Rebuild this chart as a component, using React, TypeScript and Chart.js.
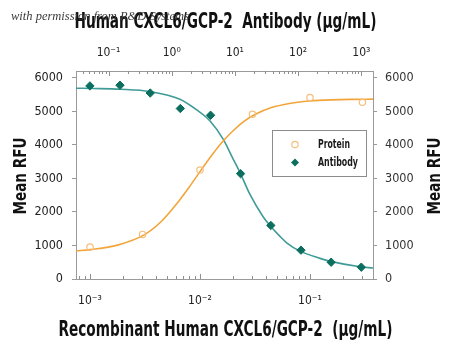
import React, { useEffect, useRef } from 'react';
import { Chart, registerables } from 'chart.js';

Chart.register(...registerables);

// ---- data ----
const proteinConc = [0.001, 0.003, 0.01, 0.03, 0.1, 0.3];
const proteinRFU = [949, 1328, 3248, 4910, 5409, 5269];

const antibodyConc = [0.0508, 0.152, 0.457, 1.37, 4.12, 12.3, 37.0, 111, 333, 1000];
const antibodyRFU = [5755, 5776, 5543, 5081, 4881, 3140, 1597, 860, 501, 352];

const proteinFitConc = [0.000746, 0.001, 0.00178, 0.00316, 0.00447, 0.00631, 0.00794, 0.01, 0.0126, 0.0158, 0.02, 0.0251, 0.0316, 0.0447, 0.0631, 0.1, 0.158, 0.251, 0.374];
const proteinFitRFU = [835, 875, 1010, 1330, 1720, 2290, 2730, 3200, 3660, 4070, 4420, 4700, 4905, 5110, 5225, 5305, 5340, 5355, 5362];

const antibodyFitConc = [0.0306, 0.0575, 0.152, 0.454, 1.35, 2.49, 4.04, 6.55, 9.43, 12.0, 17.3, 28.1, 35.9, 51.7, 66.0, 107, 222, 327, 953, 1531];
const antibodyFitRFU = [5687, 5678, 5657, 5588, 5358, 5039, 4710, 4164, 3567, 3180, 2520, 1850, 1597, 1270, 1080, 830, 615, 525, 364, 328];

const yTickValues = [0, 1000, 2000, 3000, 4000, 5000, 6000];
const bottomRange = [0.000746, 0.374];
const topRange = [0.0306, 1531];
const yRange = [0, 6200];

const topTitle = 'Human CXCL6/GCP-2  Antibody (\u00b5g/mL)';
const bottomTitle = 'Recombinant Human CXCL6/GCP-2  (\u00b5g/mL)';
const yTitle = 'Mean RFU';
const legendLabels = ['Protein', 'Antibody'];
const watermark = 'with permission from R&D Systems';

const FONT = '"DejaVu Sans Condensed", "Liberation Sans Narrow", "Liberation Sans", sans-serif';

const SUP: Record<string, string> = { '-': '\u207b', '0': '\u2070', '1': '\u00b9', '2': '\u00b2', '3': '\u00b3', '4': '\u2074', '5': '\u2075', '6': '\u2076', '7': '\u2077', '8': '\u2078', '9': '\u2079' };

function powLabel(v: number): string {
  const l = Math.log10(v);
  const r = Math.round(l);
  if (Math.abs(l - r) > 1e-6) return '';
  return '10' + String(r).split('').map((c) => SUP[c] || c).join('');
}

const ORANGE_LINE = '#f2a53a';
const ORANGE_PT = '#f4bf7c';
const TEAL_LINE = '#3f9b97';
const TEAL_PT = '#0c6e5f';

const insideTicks = {
  id: 'insideTicks',
  afterDraw(chart: any) {
    const ctx = chart.ctx;
    ['x', 'x2'].forEach((id) => {
      const s = chart.scales[id];
      const isTop = id === 'x2';
      const yEdge = isTop ? chart.chartArea.top : chart.chartArea.bottom;
      ctx.save();
      ctx.strokeStyle = '#8f8f8f';
      ctx.lineWidth = 1;
      const e0 = Math.floor(Math.log10(s.min));
      const e1 = Math.ceil(Math.log10(s.max));
      for (let e = e0; e <= e1; e++) {
        for (let m = 1; m <= 9; m++) {
          const v = m * Math.pow(10, e);
          if (v < s.min || v > s.max) continue;
          const px = Math.round(s.getPixelForValue(v)) + 0.5;
          const len = m === 1 ? 5 : 3;
          ctx.beginPath();
          ctx.moveTo(px, yEdge);
          ctx.lineTo(px, isTop ? yEdge + len : yEdge - len);
          ctx.stroke();
        }
      }
      ctx.restore();
    });
  },
};

function squeezeText(ctx: any, text: string, x: number, y: number, maxW: number) {
  ctx.fillText(text, x, y, maxW);
}

const axisTitles = {
  id: 'axisTitles',
  afterDraw(chart: any) {
    const ctx = chart.ctx;
    const a = chart.chartArea;
    const cx = (a.left + a.right) / 2 + 1;
    const cy = (a.top + a.bottom) / 2 + 1;
    ctx.save();
    ctx.fillStyle = '#111';
    ctx.textAlign = 'center';
    ctx.textBaseline = 'alphabetic';
    ctx.font = 'bold 21px ' + FONT;
    squeezeText(ctx, topTitle, cx, 28, 302);
    squeezeText(ctx, bottomTitle, cx, 335.5, 334);
    ctx.font = 'bold 18px ' + FONT;
    [25.5, 440].forEach((bx) => {
      ctx.save();
      ctx.translate(bx, cy);
      ctx.rotate(-Math.PI / 2);
      squeezeText(ctx, yTitle, 0, 0, 77);
      ctx.restore();
    });
    ctx.restore();
  },
};

const boxLegend = {
  id: 'boxLegend',
  afterDraw(chart: any) {
    const ctx = chart.ctx;
    const bx = 272.5, by = 130.5, bw = 94, bh = 46;
    ctx.save();
    ctx.fillStyle = '#ffffff';
    ctx.fillRect(bx, by, bw, bh);
    ctx.strokeStyle = '#8c8c8c';
    ctx.lineWidth = 1;
    ctx.strokeRect(bx, by, bw, bh);
    const rows = [144.5, 162.5];
    const widths = [32, 40];
    [0, 1].forEach((i) => {
      const ds = chart.data.datasets[i];
      const mx = 295, my = rows[i];
      ctx.beginPath();
      if (ds.pointStyle === 'rectRot') {
        const r = 4;
        ctx.moveTo(mx - r, my);
        ctx.lineTo(mx, my - r);
        ctx.lineTo(mx + r, my);
        ctx.lineTo(mx, my + r);
        ctx.closePath();
        ctx.fillStyle = ds.pointBackgroundColor;
        ctx.fill();
      } else {
        ctx.arc(mx, my, 3.2, 0, Math.PI * 2);
        ctx.strokeStyle = ds.pointBorderColor;
        ctx.lineWidth = 1.2;
        ctx.stroke();
      }
      ctx.fillStyle = '#1a1a1a';
      ctx.font = 'bold 12px ' + FONT;
      ctx.textBaseline = 'middle';
      ctx.textAlign = 'left';
      squeezeText(ctx, ds.label, 318, my, widths[i]);
    });
    ctx.restore();
  },
};

export default function App() {
  const ref = useRef<HTMLCanvasElement>(null);

  useEffect(() => {
    if (!ref.current) return;
    const toPts = (xs: number[], ys: number[]) => xs.map((x, i) => ({ x, y: ys[i] }));
    const setYTicks = (scale: any) => {
      scale.ticks = yTickValues.map((v) => ({ value: v }));
    };
    const xTickOpts = (pad: number) => ({
      autoSkip: false,
      maxRotation: 0,
      padding: pad,
      color: '#222',
      font: { family: FONT, size: 12 },
      callback: (v: any) => powLabel(Number(v)),
    });
    const chart = new Chart(ref.current, {
      type: 'scatter',
      data: {
        datasets: [
          {
            label: legendLabels[0],
            data: toPts(proteinConc, proteinRFU),
            xAxisID: 'x',
            yAxisID: 'y',
            showLine: false,
            pointStyle: 'circle',
            pointRadius: 3.2,
            pointBorderWidth: 1.2,
            pointBorderColor: ORANGE_PT,
            pointBackgroundColor: 'rgba(255,255,255,0)',
          },
          {
            label: legendLabels[1],
            data: toPts(antibodyConc, antibodyRFU),
            xAxisID: 'x2',
            yAxisID: 'y',
            showLine: false,
            pointStyle: 'rectRot',
            pointRadius: 4.2,
            pointBorderWidth: 1,
            pointBorderColor: TEAL_PT,
            pointBackgroundColor: TEAL_PT,
          },
          {
            label: 'Protein fit',
            data: toPts(proteinFitConc, proteinFitRFU),
            xAxisID: 'x',
            yAxisID: 'y',
            showLine: true,
            pointRadius: 0,
            borderColor: ORANGE_LINE,
            borderWidth: 1.6,
            cubicInterpolationMode: 'monotone',
          },
          {
            label: 'Antibody fit',
            data: toPts(antibodyFitConc, antibodyFitRFU),
            xAxisID: 'x2',
            yAxisID: 'y',
            showLine: true,
            pointRadius: 0,
            borderColor: TEAL_LINE,
            borderWidth: 1.6,
            cubicInterpolationMode: 'monotone',
          },
        ],
      },
      options: {
        animation: false,
        responsive: false,
        layout: { padding: 0 },
        plugins: { legend: { display: false }, tooltip: { enabled: false } },
        scales: {
          x: {
            type: 'logarithmic',
            position: 'bottom',
            min: bottomRange[0],
            max: bottomRange[1],
            afterFit: (s: any) => { s.height = 72; },
            grid: { display: false, drawTicks: false, tickLength: 0 },
            border: { display: true, color: '#9a9a9a', width: 1 },
            ticks: xTickOpts(15),
          },
          x2: {
            type: 'logarithmic',
            position: 'top',
            min: topRange[0],
            max: topRange[1],
            afterFit: (s: any) => { s.height = 71; },
            grid: { display: false, drawTicks: false, tickLength: 0 },
            border: { display: true, color: '#9a9a9a', width: 1 },
            ticks: xTickOpts(11),
          },
          y: {
            type: 'linear',
            position: 'left',
            min: yRange[0],
            max: yRange[1],
            afterFit: (s: any) => { s.width = 76; },
            afterBuildTicks: setYTicks,
            grid: { display: true, drawOnChartArea: false, drawTicks: true, tickLength: 4, color: '#9a9a9a' },
            border: { display: true, color: '#9a9a9a', width: 1 },
            ticks: {
              padding: 9,
              color: '#222',
              font: { family: FONT, size: 12.5 },
              callback: (v: any) => String(v),
            },
          },
          y2: {
            type: 'linear',
            position: 'right',
            min: yRange[0],
            max: yRange[1],
            afterFit: (s: any) => { s.width = 77; },
            afterBuildTicks: setYTicks,
            grid: { display: true, drawOnChartArea: false, drawTicks: true, tickLength: 4, color: '#9a9a9a' },
            border: { display: true, color: '#9a9a9a', width: 1 },
            ticks: {
              padding: 8,
              color: '#333',
              font: { family: FONT, size: 12.5 },
              callback: (v: any) => String(v),
            },
          },
        },
      } as any,
      plugins: [insideTicks, axisTitles, boxLegend],
    });
    return () => chart.destroy();
  }, []);

  return (
    <div style={{ position: 'absolute', left: 0, top: 0, width: 450, height: 351, background: '#fff' }}>
      <canvas ref={ref} width={450} height={351} style={{ display: 'block' }} />
      <div
        style={{
          position: 'absolute',
          left: 11,
          top: 9,
          fontFamily: '"Liberation Serif", "DejaVu Serif", serif',
          fontStyle: 'italic',
          fontSize: 12.5,
          color: '#3a3a3a',
          whiteSpace: 'nowrap',
          lineHeight: '14px',
        }}
      >
        {watermark}
      </div>
    </div>
  );
}
